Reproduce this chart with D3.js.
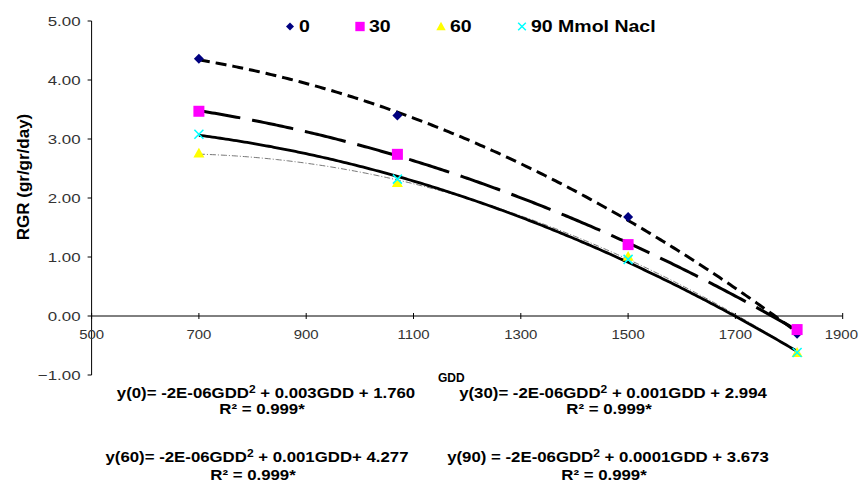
<!DOCTYPE html>
<html>
<head>
<meta charset="utf-8">
<script src="https://cdn.jsdelivr.net/npm/d3@7"></script>
<style>
  html, body { margin: 0; padding: 0; background: #fff; }
  svg { display: block; font-family: "Liberation Sans", Arial, sans-serif; }
</style>
</head>
<body>
<svg id="chart" width="859" height="482"></svg>
<script>
// Growing degree days at each sampling
const gdd = [700, 1070, 1500, 1815];

// Relative growth rate for each salinity level (mmol NaCl)
const rgr0  = [4.36, 3.40, 1.68, -0.30];
const rgr30 = [3.47, 2.74, 1.21, -0.23];
const rgr60 = [2.76, 2.26, 1.01, -0.62];
const rgr90 = [3.08, 2.32, 0.96, -0.62];

const seriesNames = ["0", "30", "60", "90 Mmol Nacl"];
const xTicks = [500, 700, 900, 1100, 1300, 1500, 1700, 1900];
const yTicks = [-1, 0, 1, 2, 3, 4, 5];

const equations = [
  { lead: "y(0)= -2E-06GDD", tail: " + 0.003GDD + 1.760", r2: "R² = 0.999*" },
  { lead: "y(30)= -2E-06GDD", tail: " + 0.001GDD + 2.994", r2: "R² = 0.999*" },
  { lead: "y(60)= -2E-06GDD", tail: " + 0.001GDD+ 4.277", r2: "R² = 0.999*" },
  { lead: "y(90) = -2E-06GDD", tail: " + 0.0001GDD + 3.673", r2: "R² = 0.999*" }
];

const svg = d3.select("#chart");
const plot = { left: 91.6, right: 842.7, top: 21, bottom: 375 };

const x = d3.scaleLinear().domain([500, 1900]).range([plot.left, plot.right]);
const y = d3.scaleLinear().domain([-1, 5]).range([plot.bottom, plot.top]);

// Text drawn with a slight horizontal stretch
function wideText(parent, px, py, sx) {
  return parent.append("g")
    .attr("transform", `translate(${px},${py}) scale(${sx},1)`)
    .append("text");
}

// Second-order least-squares trendline
function quadFit(xs, ys) {
  const n = xs.length;
  const s = k => d3.sum(xs, v => Math.pow(v, k));
  const t = k => d3.sum(xs, (v, i) => Math.pow(v, k) * ys[i]);
  const A = [[n, s(1), s(2)], [s(1), s(2), s(3)], [s(2), s(3), s(4)]];
  const b = [t(0), t(1), t(2)];
  for (let i = 0; i < 3; i++) {
    for (let j = i + 1; j < 3; j++) {
      const f = A[j][i] / A[i][i];
      for (let k = i; k < 3; k++) A[j][k] -= f * A[i][k];
      b[j] -= f * b[i];
    }
  }
  const c = [0, 0, 0];
  for (let i = 2; i >= 0; i--) {
    let acc = b[i];
    for (let k = i + 1; k < 3; k++) acc -= A[i][k] * c[k];
    c[i] = acc / A[i][i];
  }
  return v => c[0] + c[1] * v + c[2] * v * v;
}

const series = [
  { name: seriesNames[0], values: rgr0,  color: "#000080", symbol: "diamond",
    line: { stroke: "#000", width: 3, dash: "11,6" } },
  { name: seriesNames[1], values: rgr30, color: "#ff00ff", symbol: "square",
    line: { stroke: "#000", width: 3, dash: "42,12" } },
  { name: seriesNames[2], values: rgr60, color: "#ffff00", symbol: "triangle",
    line: { stroke: "#777", width: 1, dash: "6,2,1,2" } },
  { name: seriesNames[3], values: rgr90, color: "#00ffff", symbol: "cross",
    line: { stroke: "#000", width: 2.8, dash: null } }
];

// Axes
const axisColor = "#000";
svg.append("line")
  .attr("x1", x(500)).attr("x2", x(500))
  .attr("y1", y(5)).attr("y2", y(-1))
  .attr("stroke", axisColor).attr("stroke-width", 1);
svg.append("line")
  .attr("x1", x(500)).attr("x2", x(1900))
  .attr("y1", y(0)).attr("y2", y(0))
  .attr("stroke", axisColor).attr("stroke-width", 1);

// Y ticks and labels
svg.selectAll(".ytick").data(yTicks).enter().append("line")
  .attr("x1", x(500) - 4).attr("x2", x(500))
  .attr("y1", d => y(d)).attr("y2", d => y(d))
  .attr("stroke", axisColor);
yTicks.forEach(d => {
  wideText(svg, x(500) - 11, y(d) + 5, 1.3)
    .attr("text-anchor", "end").attr("font-size", 13).attr("fill", "#333")
    .text(d3.format(".2f")(d));
});

// X ticks and labels
svg.selectAll(".xtick").data(xTicks).enter().append("line")
  .attr("x1", d => x(d)).attr("x2", d => x(d))
  .attr("y1", y(0) - 3).attr("y2", y(0) + 3)
  .attr("stroke", axisColor);
xTicks.forEach(d => {
  const last = d === xTicks[xTicks.length - 1];
  wideText(svg, last ? 858 : x(d), y(0) + 23, 1.15)
    .attr("text-anchor", last ? "end" : "middle").attr("font-size", 13).attr("fill", "#333")
    .text(d);
});

// Axis titles
svg.append("text")
  .attr("transform", "translate(29,177) rotate(-90)")
  .attr("text-anchor", "middle").attr("font-size", 17).attr("font-weight", "bold")
  .text("RGR (gr/gr/day)");
svg.append("text")
  .attr("x", 438).attr("y", 382)
  .attr("font-size", 12).attr("font-weight", "bold")
  .text("GDD");

// Trendlines
const lineGen = d3.line().x(d => x(d[0])).y(d => y(d[1]));
series.forEach(s => {
  const f = quadFit(gdd, s.values);
  const xs = d3.range(gdd[0], gdd[gdd.length - 1] + 0.1, 5);
  const pts = xs.map(v => [v, f(v)]);
  svg.append("path")
    .datum(pts)
    .attr("d", lineGen)
    .attr("fill", "none")
    .attr("stroke", s.line.stroke)
    .attr("stroke-width", s.line.width)
    .attr("stroke-dasharray", s.line.dash);
});

// Markers
function drawMarker(g, type, color, cx, cy, scale) {
  const k = scale || 1;
  if (type === "diamond") {
    const r = 5 * k;
    g.append("path").attr("d", `M${cx},${cy - r}L${cx + r},${cy}L${cx},${cy + r}L${cx - r},${cy}Z`).attr("fill", color);
  } else if (type === "square") {
    const h = 5.5 * k;
    g.append("rect").attr("x", cx - h).attr("y", cy - h).attr("width", 2 * h).attr("height", 2 * h).attr("fill", color);
  } else if (type === "triangle") {
    const h = 5.5 * k;
    g.append("path").attr("d", `M${cx},${cy - h}L${cx + h},${cy + h * 0.8}L${cx - h},${cy + h * 0.8}Z`).attr("fill", color);
  } else if (type === "cross") {
    const h = 4.5 * k;
    g.append("path").attr("d", `M${cx - h},${cy - h}L${cx + h},${cy + h}M${cx - h},${cy + h}L${cx + h},${cy - h}`)
      .attr("stroke", color).attr("stroke-width", 1.5).attr("fill", "none");
  }
}
const markerLayer = svg.append("g");
series.forEach(s => {
  s.values.forEach((v, i) => drawMarker(markerLayer, s.symbol, s.color, x(gdd[i]), y(v)));
});

// Legend
const legendX = [290, 360, 441, 522];
series.forEach((s, i) => {
  drawMarker(svg, s.symbol, s.color, legendX[i], 26.5, s.symbol === "diamond" ? 0.8 : 0.85);
  wideText(svg, legendX[i] + 9, 32, 1.22)
    .attr("font-size", 16).attr("font-weight", "bold")
    .text(s.name);
});

// Regression equations
const eqPos = [
  { cx: 266, y: 398, ry: 414 },
  { cx: 613, y: 398, ry: 414 },
  { cx: 257, y: 462, ry: 480 },
  { cx: 608, y: 462, ry: 480 }
];
equations.forEach((e, i) => {
  const p = eqPos[i];
  const t = wideText(svg, p.cx, p.y, 1.2)
    .attr("text-anchor", "middle").attr("font-size", 14).attr("font-weight", "bold");
  t.append("tspan").text(e.lead);
  t.append("tspan").attr("dy", -5).attr("font-size", 10).text("2");
  t.append("tspan").attr("dy", 5).text(e.tail);
  wideText(svg, p.cx - 4, p.ry, 1.2)
    .attr("text-anchor", "middle").attr("font-size", 14).attr("font-weight", "bold")
    .text(e.r2);
});
</script>
</body>
</html>
